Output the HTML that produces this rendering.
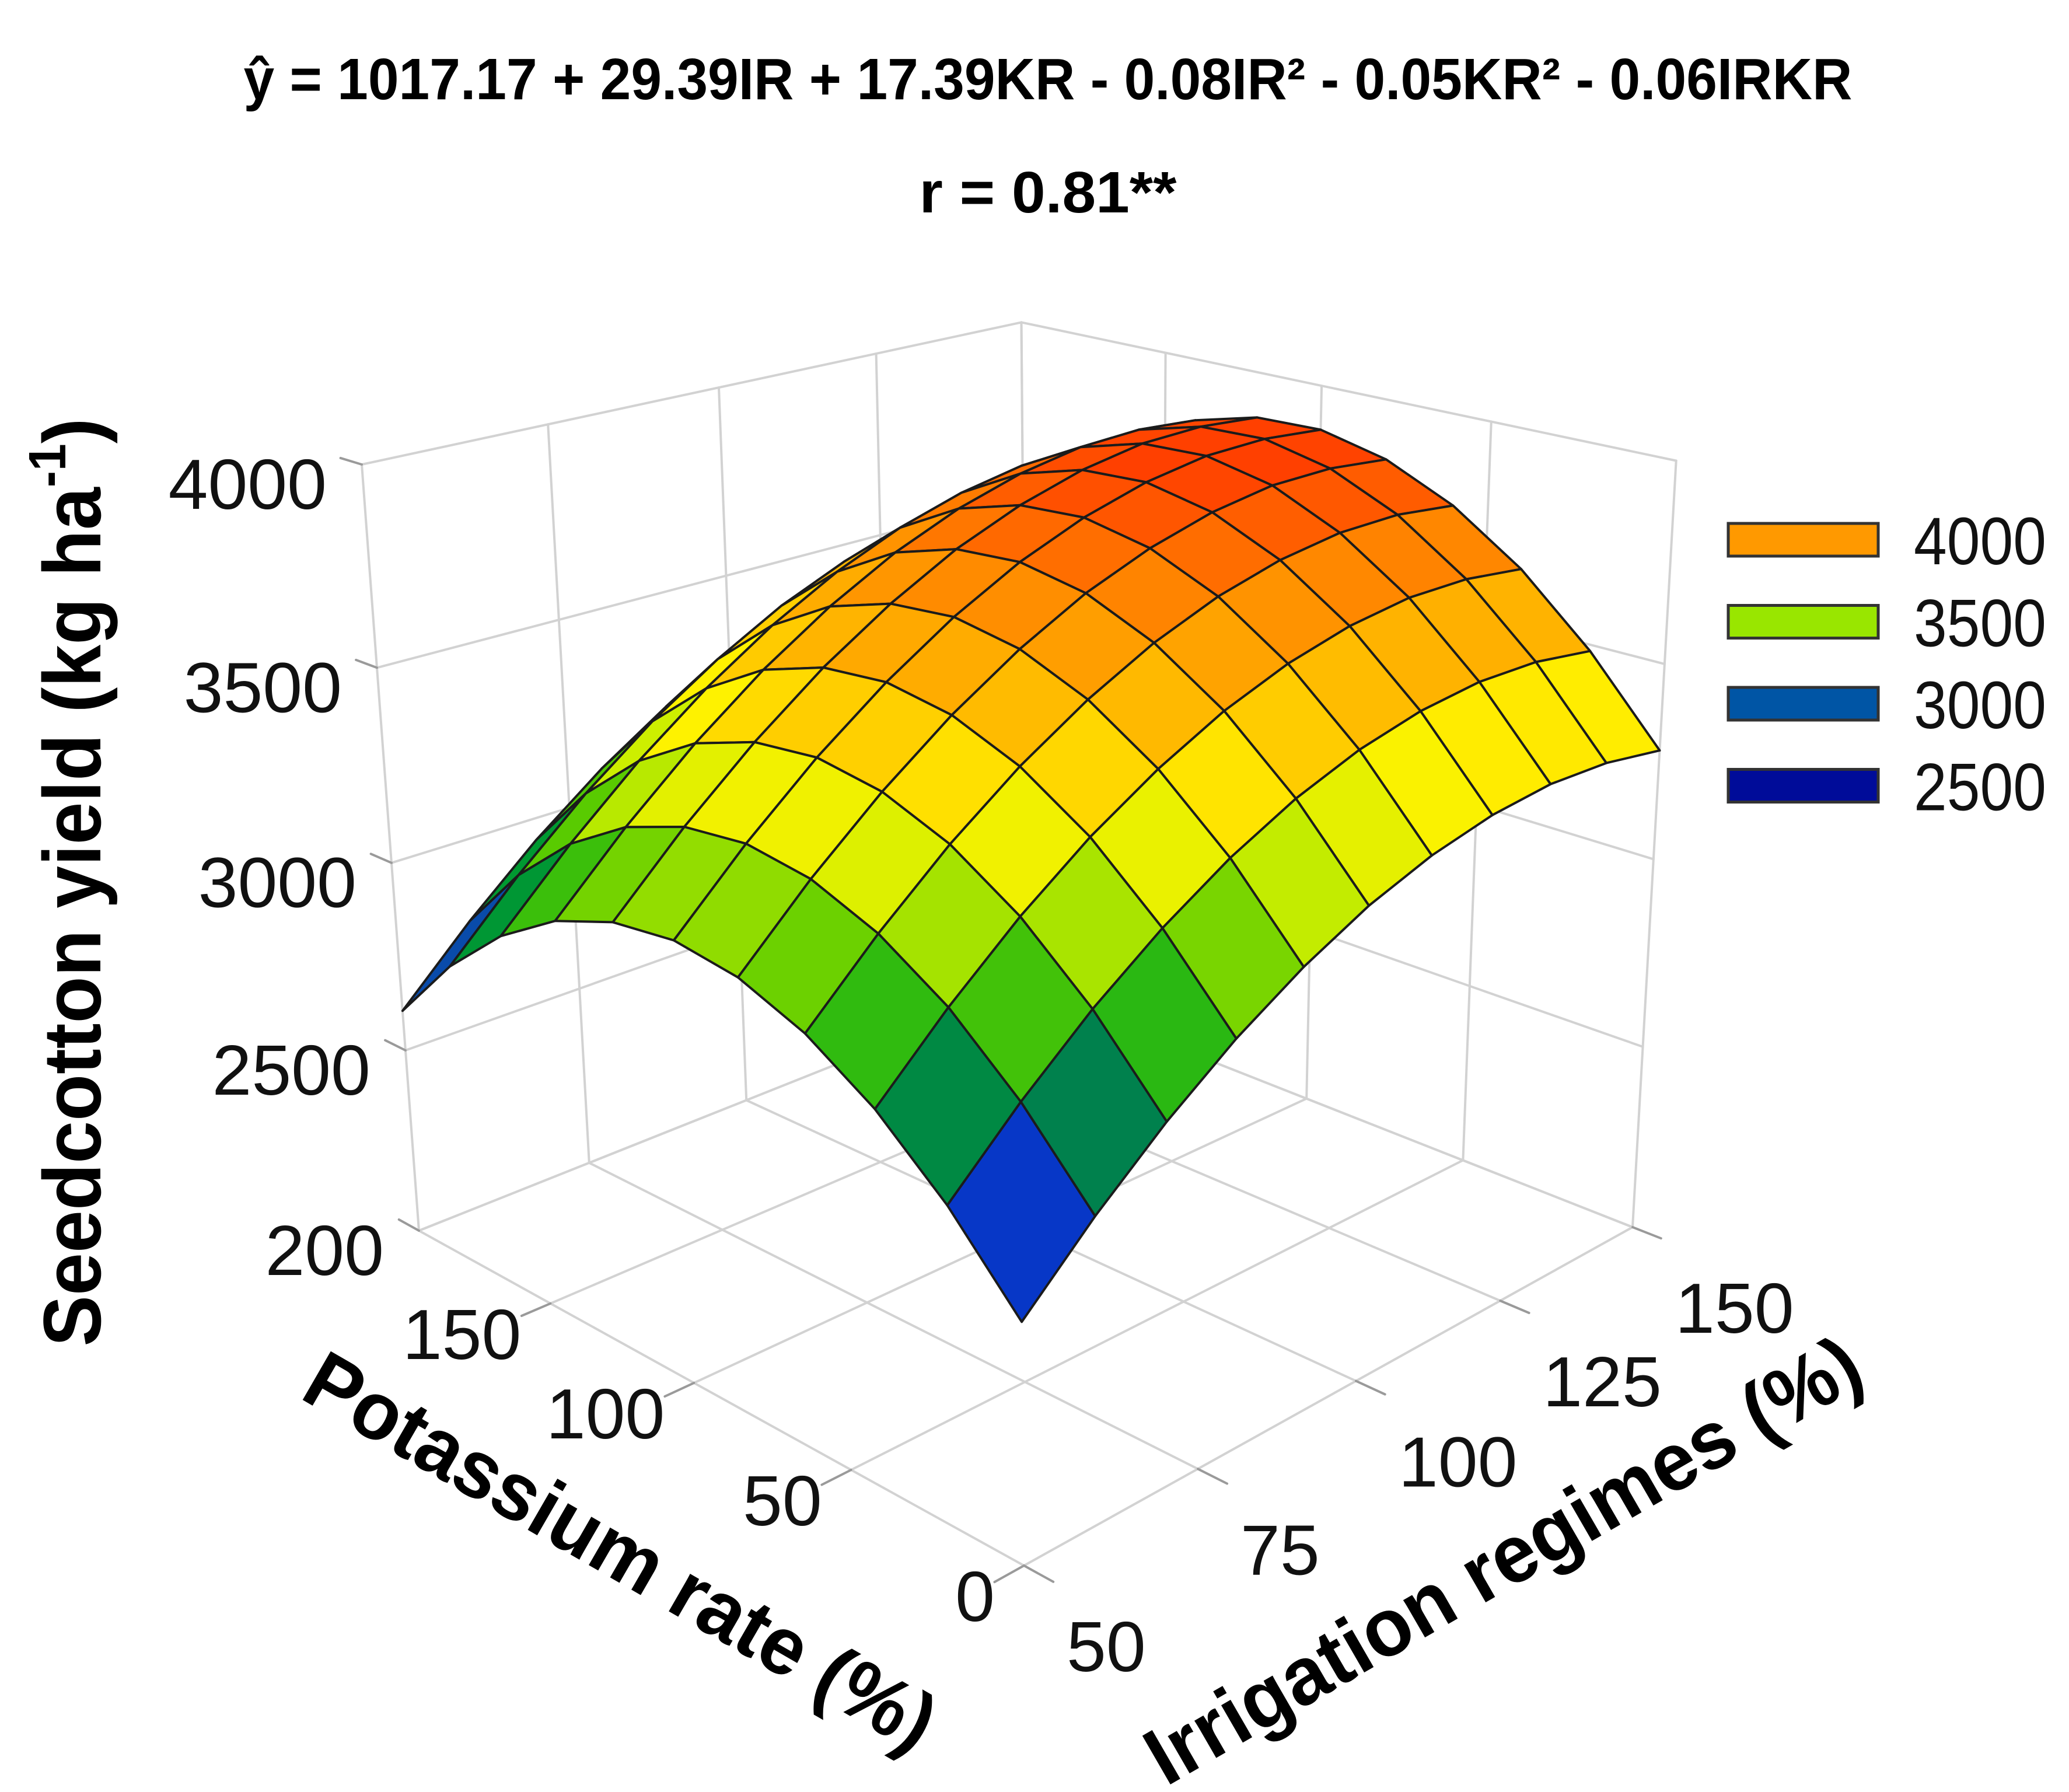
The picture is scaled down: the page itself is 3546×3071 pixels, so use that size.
<!DOCTYPE html>
<html>
<head>
<meta charset="utf-8">
<style>
  html,body{margin:0;padding:0;background:#ffffff;}
  svg{display:block;}
  text{font-family:"Liberation Sans",sans-serif;}
</style>
</head>
<body>
<svg id="chart" xmlns="http://www.w3.org/2000/svg" width="3546" height="3071" viewBox="0 0 3546 3071">
  <rect x="0" y="0" width="3546" height="3071" fill="#ffffff"/>
  <g id="walls"></g>
  <g id="ticks"></g>
  <g id="surface"></g>
  <g id="labels"></g>

  <text x="1796" y="170" text-anchor="middle" font-size="100" font-weight="bold" textLength="2757" lengthAdjust="spacingAndGlyphs">ŷ = 1017.17 + 29.39IR + 17.39KR - 0.08IR² - 0.05KR² - 0.06IRKR</text>
  <text x="1796" y="364" text-anchor="middle" font-size="100" font-weight="bold" textLength="441" lengthAdjust="spacingAndGlyphs">r = 0.81**</text>

  <text transform="translate(172,1512) rotate(-90)" text-anchor="middle" font-size="140" font-weight="bold" textLength="1591" lengthAdjust="spacingAndGlyphs">Seedcotton yield (kg ha<tspan font-size="90" dy="-60">-1</tspan><tspan dy="60">)</tspan></text>
  <text transform="translate(1040,2700) rotate(30)" text-anchor="middle" font-size="140" font-weight="bold" textLength="1222" lengthAdjust="spacingAndGlyphs">Potassium rate (%)</text>
  <text transform="translate(2600,2715) rotate(-30)" text-anchor="middle" font-size="140" font-weight="bold" textLength="1390" lengthAdjust="spacingAndGlyphs">Irrigation regimes (%)</text>

  <g id="legend"></g>
</svg>
<script>
// ---- data ----
const irValues = [50, 60, 70, 80, 90, 100, 110, 120, 130, 140, 150];
const krValues = [0, 20, 40, 60, 80, 100, 120, 140, 160, 180, 200];
// yield rows: one row per KR value, columns follow irValues
const yieldKR0   = [2580, 2743, 2886, 3008, 3109, 3190, 3249, 3288, 3307, 3304, 3281];
const yieldKR20  = [2769, 2933, 3078, 3201, 3304, 3386, 3447, 3487, 3507, 3506, 3484];
const yieldKR40  = [2917, 3083, 3229, 3354, 3457, 3541, 3603, 3645, 3667, 3667, 3647];
const yieldKR60  = [3023, 3190, 3338, 3464, 3569, 3654, 3718, 3761, 3784, 3786, 3767];
const yieldKR80  = [3088, 3257, 3405, 3533, 3640, 3727, 3791, 3836, 3861, 3863, 3846];
const yieldKR100 = [3112, 3282, 3432, 3561, 3670, 3758, 3824, 3870, 3896, 3900, 3885];
const yieldKR120 = [3093, 3265, 3416, 3547, 3656, 3746, 3813, 3861, 3889, 3894, 3880];
const yieldKR140 = [3034, 3207, 3360, 3492, 3603, 3694, 3763, 3812, 3841, 3848, 3835];
const yieldKR160 = [2933, 3107, 3262, 3395, 3508, 3600, 3671, 3721, 3752, 3760, 3748];
const yieldKR180 = [2791, 2967, 3123, 3258, 3371, 3465, 3537, 3589, 3621, 3631, 3621];
const yieldKR200 = [2607, 2784, 2942, 3078, 3193, 3289, 3362, 3415, 3448, 3460, 3451];
const yieldRows = [yieldKR0, yieldKR20, yieldKR40, yieldKR60, yieldKR80, yieldKR100,
                   yieldKR120, yieldKR140, yieldKR160, yieldKR180, yieldKR200];

const zTickValues = [2000, 2500, 3000, 3500, 4000];
const zTickLabels = ["200", "2500", "3000", "3500", "4000"];
const krTickValues = [0, 50, 100, 150];
const krTickLabels = ["0", "50", "100", "150"];
const krGridValues = [0, 50, 100, 150, 200];
const irTickValues = [50, 75, 100, 125, 150];
const irTickLabels = ["50", "75", "100", "125", "150"];
const legendValues = ["4000", "3500", "3000", "2500"];
const legendColors = ["#ff9900", "#99e600", "#0055a5", "#000c99"];

// ---- axis functions ----
const IR_MIN = 50, IR_MAX = 150, KR_MIN = 0, KR_MAX = 200, Z_MIN = 2000, Z_MAX = 4000;
function uOf(ir){ return (ir - IR_MIN) / (IR_MAX - IR_MIN); }
function vOf(kr){ return (kr - KR_MIN) / (KR_MAX - KR_MIN); }
function wOf(z){ return (z - Z_MIN) / (Z_MAX - Z_MIN); }
function proj(u, v, w){
  const d = 1 + 0.2*u + 0.2*v - 0.092*w;
  return [(1755 + 1602.6*u - 893.4*v - 174.6*w) / d,
          (2683 - 159.4*u - 152.2*v - 1648.8*w) / d];
}
function P(ir, kr, z){ return proj(uOf(ir), vOf(kr), wOf(z)); }

const NS = "http://www.w3.org/2000/svg";
function mk(tag, parent){ const e = document.createElementNS(NS, tag); parent.appendChild(e); return e; }
function line(parent, a, b, color, width){
  const l = mk("line", parent);
  l.setAttribute("x1", a[0].toFixed(1)); l.setAttribute("y1", a[1].toFixed(1));
  l.setAttribute("x2", b[0].toFixed(1)); l.setAttribute("y2", b[1].toFixed(1));
  l.setAttribute("stroke", color); l.setAttribute("stroke-width", width);
  l.setAttribute("stroke-linecap", "round");
  return l;
}

// ---- walls & floor gridlines ----
const walls = document.getElementById("walls");
const GRID = "#d2d2d2";
zTickValues.forEach(z => {
  const a = line(walls, P(IR_MIN, KR_MAX, z), P(IR_MAX, KR_MAX, z), GRID, 4);
  
  
  const b = line(walls, P(IR_MAX, KR_MIN, z), P(IR_MAX, KR_MAX, z), GRID, 4);
  
  
});
irTickValues.forEach(ir => {
  const a = line(walls, P(ir, KR_MAX, Z_MIN), P(ir, KR_MAX, Z_MAX), GRID, 4);
  
  
  const b = line(walls, P(ir, KR_MIN, Z_MIN), P(ir, KR_MAX, Z_MIN), GRID, 4);
  
  
});
krGridValues.forEach(kr => {
  const a = line(walls, P(IR_MAX, kr, Z_MIN), P(IR_MAX, kr, Z_MAX), GRID, 4);
  
  
  const b = line(walls, P(IR_MIN, kr, Z_MIN), P(IR_MAX, kr, Z_MIN), GRID, 4);
  
  
});

// ---- ticks ----
const ticks = document.getElementById("ticks");
const TK = "#9a9a9a";
zTickValues.forEach(z => {
  const t = line(ticks, P(IR_MIN, KR_MAX, z), P(IR_MIN, KR_MAX + 8, z), TK, 4);
  
  
});
krTickValues.forEach(kr => {
  const t = line(ticks, P(IR_MIN, kr, Z_MIN), P(IR_MIN - 4, kr, Z_MIN), TK, 4);
  
  
});
irTickValues.forEach(ir => {
  const t = line(ticks, P(ir, KR_MIN, Z_MIN), P(ir, KR_MIN - 8, Z_MIN), TK, 4);
  
  
});

// ---- colour map ----
const cmapZ = [2700, 2780, 2880, 2980, 3120, 3260, 3380, 3520, 3700, 3880];
const cmapC = ["#0010ff", "#0a48b0", "#007060", "#00a820", "#5ccc00", "#cdef00", "#fff200", "#ffc400", "#ff8e00", "#ff4000"];
function hex2rgb(h){ return [parseInt(h.substr(1,2),16), parseInt(h.substr(3,2),16), parseInt(h.substr(5,2),16)]; }
function colorFor(z){
  if (z <= cmapZ[0]) return cmapC[0];
  for (let k = 1; k < cmapZ.length; k++) {
    if (z <= cmapZ[k]) {
      const t = (z - cmapZ[k-1]) / (cmapZ[k] - cmapZ[k-1]);
      const a = hex2rgb(cmapC[k-1]), b = hex2rgb(cmapC[k]);
      return "rgb(" + a.map((c, i) => Math.round(c + (b[i] - c) * t)).join(",") + ")";
    }
  }
  return cmapC[cmapC.length - 1];
}

// ---- surface ----
const surf = document.getElementById("surface");
const cells = [];
for (let j = 0; j < krValues.length - 1; j++) {
  for (let i = 0; i < irValues.length - 1; i++) {
    const corners = [[i, j], [i+1, j], [i+1, j+1], [i, j+1]];
    const pts = corners.map(c => P(irValues[c[0]], krValues[c[1]], yieldRows[c[1]][c[0]]));
    const zMean = corners.reduce((s, c) => s + yieldRows[c[1]][c[0]], 0) / 4;
    const depth = uOf((irValues[i] + irValues[i+1]) / 2) + vOf((krValues[j] + krValues[j+1]) / 2);
    cells.push({pts, zMean, depth, i, j});
  }
}
cells.sort((a, b) => b.depth - a.depth);
cells.forEach(c => {
  const poly = mk("polygon", surf);
  poly.setAttribute("points", c.pts.map(p => p[0].toFixed(1) + "," + p[1].toFixed(1)).join(" "));
  const col = colorFor(c.zMean);
  poly.setAttribute("fill", col);
  poly.setAttribute("stroke", "#1b1b1b");
  poly.setAttribute("stroke-width", "4");
  poly.setAttribute("stroke-linejoin", "round");
  
  
});

// ---- tick labels ----
const labels = document.getElementById("labels");
function txt(parent, x, y, s, anchor, size){
  const t = mk("text", parent);
  t.setAttribute("x", x.toFixed(1)); t.setAttribute("y", y.toFixed(1));
  t.setAttribute("text-anchor", anchor); t.setAttribute("font-size", size);
  t.setAttribute("fill", "#111");
  t.textContent = s;
  return t;
}
zTickValues.forEach((z, k) => {
  const p = P(IR_MIN, KR_MAX, z);
  const t = txt(labels, p[0] - 60, p[1] + 76, zTickLabels[k], "end", 122);
  
  
});
krTickValues.forEach((kr, k) => {
  const p = P(IR_MIN, kr, Z_MIN);
  const t = txt(labels, p[0] - 50, p[1] + 95, krTickLabels[k], "end", 122);
  
  
});
irTickValues.forEach((ir, k) => {
  const p = P(ir, KR_MIN, Z_MIN);
  const t = txt(labels, p[0] + 73, p[1] + 181, irTickLabels[k], "start", 122);
  
  
});

// ---- legend ----
const legend = document.getElementById("legend");
legendValues.forEach((lab, k) => {
  const cy = 925 + k * 140.5;
  const r = mk("rect", legend);
  r.setAttribute("x", 2962); r.setAttribute("y", (cy - 28).toFixed(1));
  r.setAttribute("width", 257); r.setAttribute("height", 56);
  r.setAttribute("fill", legendColors[k]);
  r.setAttribute("stroke", "#333"); r.setAttribute("stroke-width", 5);
  
  
  const t = txt(legend, 3280, cy + 42, lab, "start", 115);
  t.setAttribute("textLength", 227);
  t.setAttribute("lengthAdjust", "spacingAndGlyphs");
  
  
});
</script>
</body>
</html>
